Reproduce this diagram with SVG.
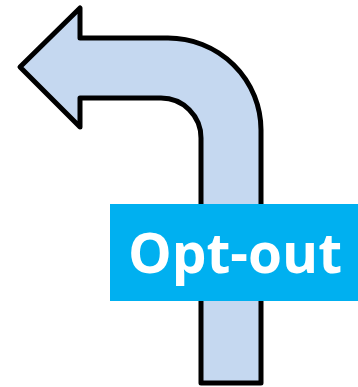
<svg xmlns="http://www.w3.org/2000/svg" width="358" height="387" viewBox="0 0 358 387">
<style>
.arrow{fill:#c5d8f0;stroke:#000;stroke-width:5;stroke-linejoin:round}
.box{fill:#00b0f0}
.lbl{font-family:"Open Sans","Noto Sans","Liberation Sans",sans-serif;font-weight:bold;font-size:55px;fill:#fff}
</style>
<g id="bent-arrow">
<path class="arrow" d="M20,67 L80,8 L80,38 L168,38 A93,92 0 0 1 261,130 L261,383 L201,383 L201,138 A40,40 0 0 0 161,98 L80,98 L80,127 Z"/>
</g>
<g id="opt-out">
<rect class="box" x="110" y="204" width="248" height="97"/>
<text class="lbl" x="235" y="273" text-anchor="middle">Opt-out</text>
</g>
</svg>
